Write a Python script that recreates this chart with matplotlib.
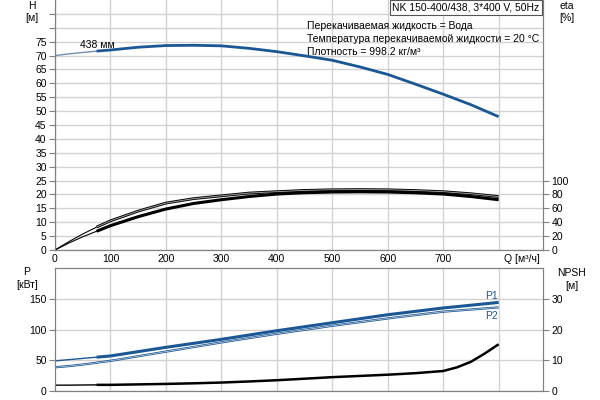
import matplotlib
matplotlib.use("Agg")
import matplotlib.pyplot as plt

plt.rcParams['font.family'] = ['Liberation Sans', 'DejaVu Sans']

# ---- data ----
Q = [0, 25, 50, 75, 100, 150, 200, 250, 300, 350, 400, 450, 500, 550, 600, 650, 700, 750, 800]
H = [70.0, 70.6, 71.1, 71.6, 72.0, 73.0, 73.6, 73.7, 73.5, 72.6, 71.4, 69.9, 68.3, 65.9, 63.2, 59.7, 56.1, 52.3, 48.0]
eta_upper = [0, 12, 23, 33, 42, 56, 67.6, 74, 78, 82, 84, 85.8, 86.7, 87, 86.7, 85.6, 84, 81, 77]
eta_lower = [0, 10, 19, 27, 35, 48, 59, 67, 72.4, 77, 80.6, 82.5, 83.5, 83.8, 83.5, 82.4, 80.6, 77, 72.4]
P1 = [49, 51, 53, 55, 57, 64, 71, 77.5, 84, 91, 98, 104.5, 111, 117.5, 124, 129.5, 135, 139.5, 144]
P2 = [38.6, 40.5, 43, 46, 49, 56.5, 64, 71.5, 79, 86, 93, 99.5, 106, 112, 118, 123.5, 129, 132.5, 136]
Q_npsh = [0, 25, 50, 75, 100, 150, 200, 250, 300, 350, 400, 450, 500, 550, 600, 650, 700, 725, 750, 775, 800]
NPSH = [1.9, 1.9, 1.95, 2.0, 2.0, 2.15, 2.3, 2.5, 2.75, 3.1, 3.5, 4.0, 4.5, 4.9, 5.3, 5.8, 6.5, 7.7, 9.5, 12.2, 15.2]

h_ticks = [0, 5, 10, 15, 20, 25, 30, 35, 40, 45, 50, 55, 60, 65, 70, 75, 80, 85]
h_labels = [str(v) for v in h_ticks[:-2]] + ['', '']
eta_ticks = [0, 20, 40, 60, 80, 100]
q_ticks = [0, 100, 200, 300, 400, 500, 600, 700]
p_ticks = [0, 50, 100, 150]
npsh_ticks = [0, 10, 20, 30]

title = "NK 150-400/438, 3*400 V, 50Hz"
info = ["Перекачиваемая жидкость = Вода",
        "Температура перекачиваемой жидкости = 20 °C",
        "Плотность = 998.2 кг/м³"]

BLUE = '#1a5794'
GRID = '#d2d2d2'
SPINE = '#808080'
FS = 7.5
split = 3  # index where thick part starts

W, Hpx = 600, 400
fig = plt.figure(figsize=(6, 4), dpi=100)

def fx(x):
    return x / W
def fy(y):
    return 1 - y / Hpx

# ---------- top axes ----------
ax = fig.add_axes([55 / W, 150 / Hpx, 488 / W, 250 / Hpx])
ax.set_xlim(0, 880)
ax.set_ylim(0, 90)
ax.set_yticks(h_ticks)
ax.set_yticklabels(h_labels)
ax.set_xticks(q_ticks + [800])
ax.set_xticklabels([str(v) for v in q_ticks] + [''])
ax.grid(True, color=GRID, lw=1)
ax.set_axisbelow(True)
ax.spines['top'].set_visible(False)
for s in ['left', 'right', 'bottom']:
    ax.spines[s].set_color(SPINE)
ax.tick_params(axis='both', labelsize=FS, length=4, color=SPINE, pad=2)
ax.tick_params(axis='x', length=0, pad=3)

ax.plot(Q[:split + 1], H[:split + 1], color='#6f8fb3', lw=1.0)
ax.plot(Q[split:], H[split:], color=BLUE, lw=2.0, solid_capstyle='butt')
ax.text(45, 73.8, "438 мм", fontsize=FS, ha='left', va='center')

ax2 = ax.twinx()
ax2.set_ylim(0, 360)
ax2.set_yticks(eta_ticks)
ax2.tick_params(axis='y', labelsize=FS, length=4, color=SPINE, pad=2)
ax2.spines['top'].set_visible(False)
for s in ['left', 'right', 'bottom']:
    ax2.spines[s].set_color(SPINE)
ax2.plot(Q[:split + 1], eta_upper[:split + 1], color='black', lw=0.8)
ax2.plot(Q[split:], eta_upper[split:], color='black', lw=2.0, solid_capstyle='butt')
ax2.plot(Q[split:], eta_upper[split:], color='#9a9a9a', lw=0.7, solid_capstyle='butt')
ax2.plot(Q[:split + 1], eta_lower[:split + 1], color='black', lw=0.8)
ax2.plot(Q[split:], eta_lower[split:], color='black', lw=2.2, solid_capstyle='butt')

# info text
for i, line in enumerate(info):
    fig.text(fx(307), fy(26 + 13 * i), line, fontsize=FS, ha='left', va='center')
fig.text(fx(466), fy(7.5), title, fontsize=FS, ha='center', va='center',
         bbox=dict(boxstyle='square,pad=0.25', fc='white', ec='#555555', lw=0.8))

fig.text(fx(32), fy(6), "H", fontsize=FS, ha='center', va='center')
fig.text(fx(32), fy(18), "[м]", fontsize=FS, ha='center', va='center')
fig.text(fx(567), fy(6), "eta", fontsize=FS, ha='center', va='center')
fig.text(fx(567), fy(18), "[%]", fontsize=FS, ha='center', va='center')
fig.text(fx(504), fy(259), "Q [м³/ч]", fontsize=FS, ha='left', va='center')

# ---------- bottom axes ----------
bx = fig.add_axes([55 / W, 9 / Hpx, 488 / W, 123 / Hpx])
bx.set_xlim(0, 880)
bx.set_ylim(0, 200)
bx.set_yticks(p_ticks)
bx.set_xticks(q_ticks[1:] + [800])
bx.set_xticklabels([])
bx.grid(True, color=GRID, lw=1)
bx.set_axisbelow(True)
for s in bx.spines.values():
    s.set_color(SPINE)
bx.tick_params(axis='y', labelsize=FS, length=4, color=SPINE, pad=2)
bx.tick_params(axis='x', length=0)

bx.plot(Q[:split + 1], P1[:split + 1], color=BLUE, lw=1.0)
bx.plot(Q[split:], P1[split:], color=BLUE, lw=2.2, solid_capstyle='butt')
bx.plot(Q, P2, color=BLUE, lw=1.6, solid_capstyle='butt')
bx.plot(Q, P2, color='#c9d5e4', lw=0.5, solid_capstyle='butt')

bx2 = bx.twinx()
bx2.set_ylim(0, 40)
bx2.set_yticks(npsh_ticks)
bx2.tick_params(axis='y', labelsize=FS, length=4, color=SPINE, pad=2)
for s in bx2.spines.values():
    s.set_color(SPINE)
bx2.plot(Q_npsh[:split + 1], NPSH[:split + 1], color='black', lw=1.0)
bx2.plot(Q_npsh[split:], NPSH[split:], color='black', lw=1.8, solid_capstyle='butt')

fig.text(fx(27), fy(272), "P", fontsize=FS, ha='center', va='center')
fig.text(fx(27), fy(285), "[кВт]", fontsize=FS, ha='center', va='center')
fig.text(fx(572), fy(273), "NPSH", fontsize=FS, ha='center', va='center')
fig.text(fx(572), fy(286), "[м]", fontsize=FS, ha='center', va='center')
fig.text(fx(492), fy(296), "P1", fontsize=FS, ha='center', va='center', color=BLUE)
fig.text(fx(492), fy(316), "P2", fontsize=FS, ha='center', va='center', color=BLUE)

fig.savefig("out.png", dpi=100)
